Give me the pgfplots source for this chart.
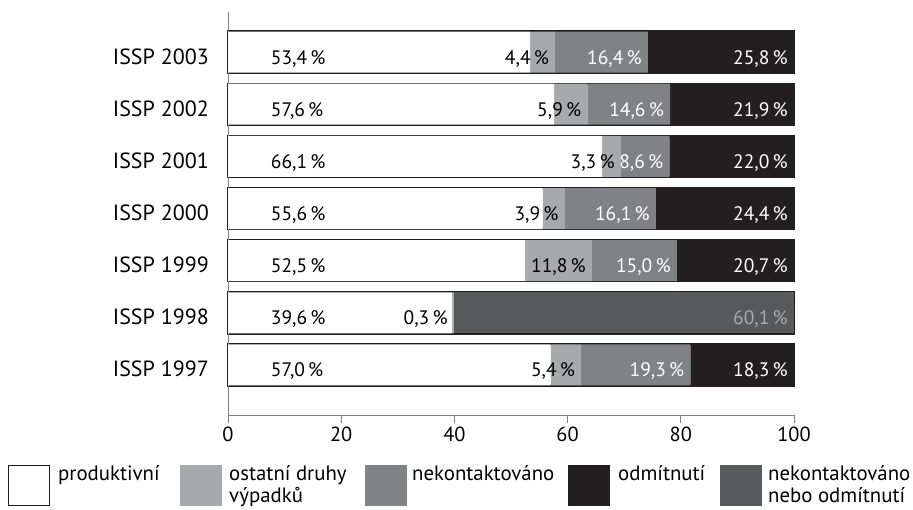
\documentclass[border=0pt]{standalone}
\usepackage{fontspec}
\setmainfont{PT Sans}
\usepackage{pgfplots}
\usepackage{pgfplotstable}
\pgfplotsset{compat=1.18}
\definecolor{ostat}{HTML}{A7A9AC}
\definecolor{nekon}{HTML}{808285}
\definecolor{odmit}{HTML}{231F20}
\definecolor{nebo}{HTML}{58595B}
\definecolor{osa}{HTML}{808285}

% i: 0 = ISSP 1997 ... 6 = ISSP 2003
\pgfplotstableread{
i prod ost nek odm noo prodlab ostlab neklab odmlab noolab
6 53.4 4.4 16.4 25.8 0 {53,4\,\%} {4,4\,\%} {16,4\,\%} {25,8\,\%} {}
5 57.6 5.9 14.6 21.9 0 {57,6\,\%} {5,9\,\%} {14,6\,\%} {21,9\,\%} {}
4 66.1 3.3 8.6 22.0 0 {66,1\,\%} {3,3\,\%} {8,6\,\%} {22,0\,\%} {}
3 55.6 3.9 16.1 24.4 0 {55,6\,\%} {3,9\,\%} {16,1\,\%} {24,4\,\%} {}
2 52.5 11.8 15.0 20.7 0 {52,5\,\%} {11,8\,\%} {15,0\,\%} {20,7\,\%} {}
1 39.6 0.3 0 0 60.1 {39,6\,\%} {0,3\,\%} {} {} {60,1\,\%}
0 57.0 5.4 19.3 18.3 0 {57,0\,\%} {5,4\,\%} {19,3\,\%} {18,3\,\%} {}
}\data

\newcommand{\valfont}{\fontsize{19.5}{22}\selectfont}
\newcommand{\legfont}{\fontsize{20.8}{24}\selectfont}

\begin{document}
\begin{tikzpicture}
\useasboundingbox (0,0) rectangle (913pt,509pt);
\pgfplotsset{frame/.style={
  at={(228pt,94pt)}, anchor=south west, scale only axis,
  width=566pt, height=403.3pt,
  xmin=0, xmax=100, ymin=-0.96, ymax=6.775, clip=false},
  lab/.style={draw=none, mark=none, nodes near coords, point meta=explicit symbolic,
  every node near coord/.append style={font=\valfont, anchor=base east, inner sep=0pt, xshift=-6pt, yshift=-12pt, #1}}}
% black frame lines above and below each whole bar
\begin{axis}[frame, hide axis, xbar, bar width=41pt]
\addplot[fill=white, draw=odmit, line width=2.4pt]
  table[x expr=\thisrow{prod}+\thisrow{ost}+\thisrow{nek}+\thisrow{odm}+\thisrow{noo}, y=i]{\data};
\end{axis}
\begin{axis}[frame,
  xbar stacked, bar width=41pt,
  axis lines*=left,
  axis line style={osa, line width=0.9pt},
  xtick={0,20,...,100}, ytick={0,...,6},
  yticklabels={ISSP 1997, ISSP 1998, ISSP 1999, ISSP 2000, ISSP 2001, ISSP 2002, ISSP 2003},
  tick align=outside, major tick length=8pt,
  xtick style={osa, line width=0.8pt},
  ytick style={draw=none},
  xticklabel style={font=\fontsize{20.4}{24}\selectfont},
  yticklabel style={font=\fontsize{22}{26}\selectfont, anchor=base east, inner sep=0pt, xshift=-11pt, yshift=-12pt},
  /pgf/number format/assume math mode=true,
]
\addplot[fill=white, draw=none] table[x=prod, y=i]{\data};
\addplot[fill=ostat, draw=none] table[x=ost, y=i]{\data};
\addplot[fill=nekon, draw=none] table[x=nek, y=i]{\data};
\addplot[fill=odmit, draw=none] table[x=odm, y=i]{\data};
\addplot[fill=nebo, draw=none] table[x=noo, y=i]{\data};
\end{axis}
% value labels: at the right end of each segment, the first one at a fixed place
\begin{axis}[frame, hide axis]
\addplot[lab={anchor=base west, xshift=0pt}] table[x expr=8.6, y=i, meta=prodlab]{\data};
\addplot[lab={text=black}] table[x expr=\thisrow{prod}+\thisrow{ost}, y=i, meta=ostlab]{\data};
\addplot[lab={text=white}] table[x expr=\thisrow{prod}+\thisrow{ost}+\thisrow{nek}, y=i, meta=neklab]{\data};
\addplot[lab={text=white}] table[x expr=\thisrow{prod}+\thisrow{ost}+\thisrow{nek}+\thisrow{odm}, y=i, meta=odmlab]{\data};
\addplot[lab={text=ostat}] table[x expr=\thisrow{prod}+\thisrow{ost}+\thisrow{nek}+\thisrow{odm}+\thisrow{noo}, y=i, meta=noolab]{\data};
\end{axis}
\begin{scope}[every node/.style={font=\legfont, anchor=base west, inner sep=0pt}]
\draw[odmit, line width=1.2pt, fill=white] (8.6pt,3.6pt) rectangle (49.4pt,43.4pt);
\fill[ostat] (180pt,3pt) rectangle (222pt,44pt);
\fill[nekon] (365pt,3pt) rectangle (407pt,44pt);
\fill[odmit] (568pt,3pt) rectangle (610pt,44pt);
\fill[nebo] (720pt,3pt) rectangle (762pt,44pt);
\node at (58pt,29pt) {produktivní};
\node at (229pt,29pt) {ostatní druhy};
\node at (229pt,7pt) {výpadků};
\node at (412pt,29pt) {nekontaktováno};
\node at (618pt,29pt) {odmítnutí};
\node at (768pt,29pt) {nekontaktováno};
\node at (768pt,7pt) {nebo odmítnutí};
\end{scope}
\end{tikzpicture}
\end{document}
